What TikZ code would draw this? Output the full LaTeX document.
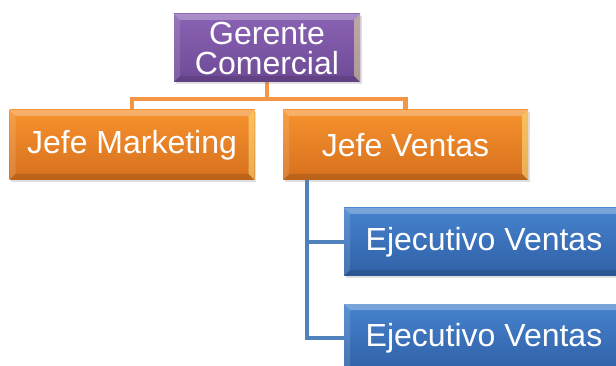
\documentclass[tikz,border=0pt]{standalone}
\usepackage{fontspec}
\setmainfont{Liberation Sans}
\usetikzlibrary{calc,shadows,backgrounds}
\definecolor{purpT}{HTML}{8A63B4}
\definecolor{purpB}{HTML}{6E4A96}
\definecolor{orT}{HTML}{F7922E}
\definecolor{orB}{HTML}{D6701E}
\definecolor{blT}{HTML}{4683CE}
\definecolor{blB}{HTML}{2F60A6}
\definecolor{orLine}{HTML}{F39544}
\definecolor{blLine}{HTML}{4F81BD}
\tikzset{
  bevel/.style={path picture={
    \coordinate (NW) at (path picture bounding box.north west);
    \coordinate (NE) at (path picture bounding box.north east);
    \coordinate (SW) at (path picture bounding box.south west);
    \coordinate (SE) at (path picture bounding box.south east);
    \coordinate (nw) at ($(NW)+(6pt,-6pt)$);
    \coordinate (ne) at ($(NE)+(-6pt,-6pt)$);
    \coordinate (sw) at ($(SW)+(6pt,6pt)$);
    \coordinate (se) at ($(SE)+(-6pt,6pt)$);
    \fill[white,opacity=0.28] (NW) -- (NE) -- (ne) -- (nw) -- cycle;
    \fill[white,opacity=0.12] (NW) -- (nw) -- (sw) -- (SW) -- cycle;
    \fill[yellow!40!white,opacity=0.45] (NE) -- (SE) -- (se) -- (ne) -- cycle;
    \fill[black,opacity=0.12] (SW) -- (sw) -- (se) -- (SE) -- cycle;
  }},
  orgbox/.style={rectangle, inner sep=0pt, text=white, align=center,
    font=\fontsize{32}{30}\selectfont, bevel,
    drop shadow={shadow xshift=1.5pt, shadow yshift=-2pt, opacity=0.25}},
  purplebox/.style={orgbox, top color=purpT, bottom color=purpB},
  orangebox/.style={orgbox, top color=orT, bottom color=orB},
  bluebox/.style={orgbox, top color=blT, bottom color=blB},
  orconn/.style={draw=orLine, line width=4.5pt},
  blconn/.style={draw=blLine, line width=4.5pt},
}
\begin{document}
\begin{tikzpicture}[x=1pt,y=-1pt]
\useasboundingbox (0,0) rectangle (616,366);
\begin{scope}
\clip (0,0) rectangle (616,366);
\node[purplebox, minimum width=186pt, minimum height=68pt] (G) at (267,48) {Gerente\\Comercial};
\node[orangebox, minimum width=245pt, minimum height=70pt] (JM) at (132,145) {Jefe Marketing};
\node[orangebox, minimum width=245pt, minimum height=70pt] (JV) at (405.5,145) {Jefe Ventas};
\node[bluebox, minimum width=280pt, minimum height=68pt] (E1) at (484,242) {Ejecutivo Ventas};
\node[bluebox, minimum width=280pt, minimum height=68pt] (E2) at (484,338) {Ejecutivo Ventas};
\coordinate (hub) at ($(G.south)+(0pt,-17pt)$);
\coordinate (jvs) at ($(JV.south west)+(24pt,0pt)$);
\begin{scope}[on background layer]
\fill[white] (0,0) rectangle (616,366);
\draw[orconn] (G.south) -- (hub);
\draw[orconn] (hub) -| (JM.north);
\draw[orconn] (hub) -| (JV.north);
\draw[blconn] (jvs) |- (E1.west);
\draw[blconn] (jvs) |- (E2.west);
\end{scope}
\end{scope}
\end{tikzpicture}
\end{document}
